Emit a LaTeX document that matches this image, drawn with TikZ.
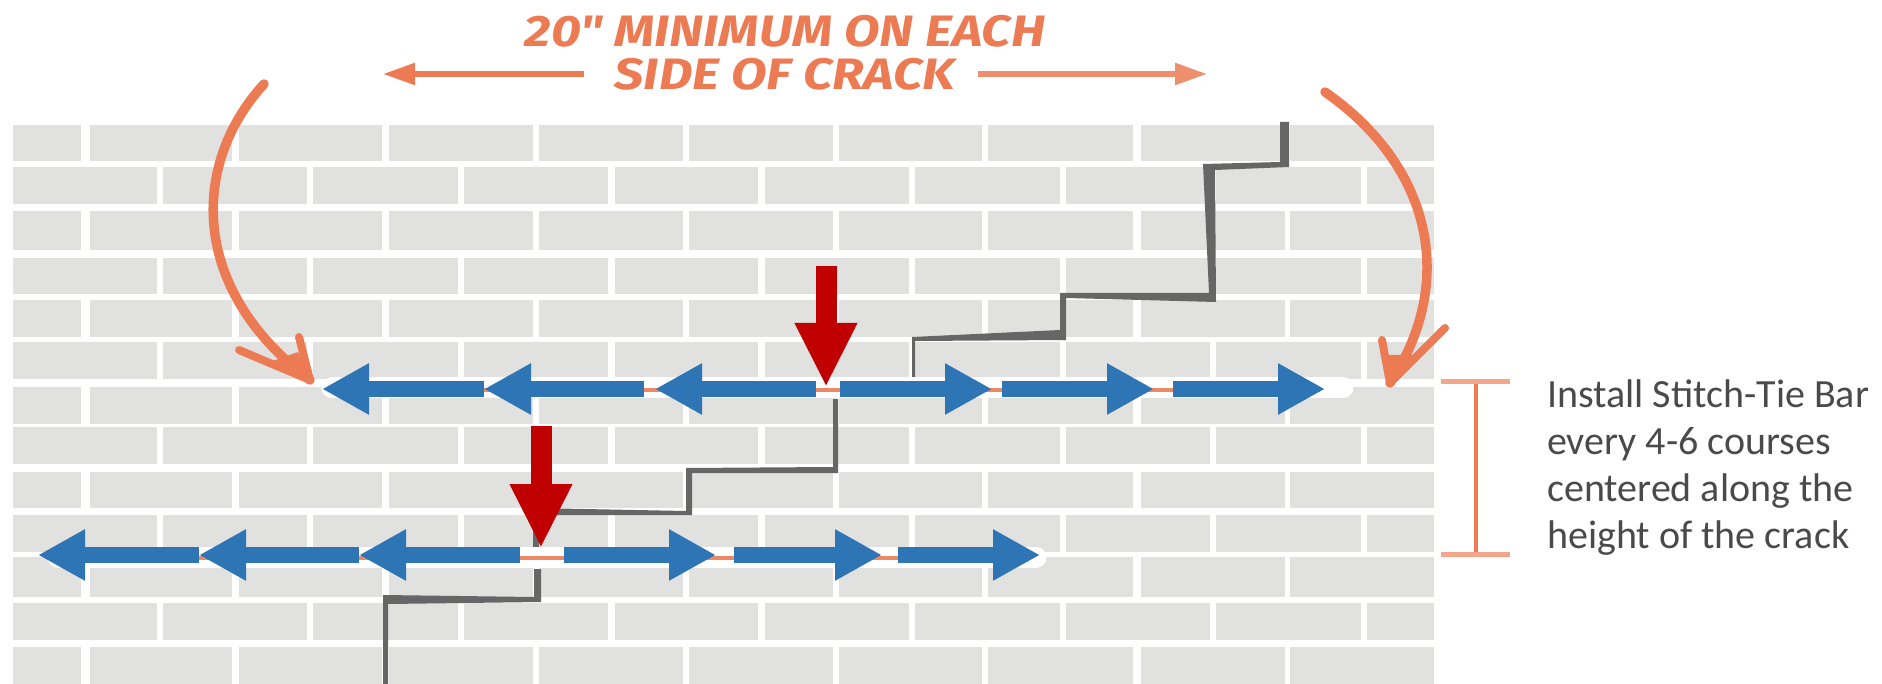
\documentclass[tikz,border=0pt]{standalone}
\usepackage{fontspec}
\setmainfont{Carlito}
\newfontfamily\handfont[FakeStretch=1.18]{Fira Sans}
\usetikzlibrary{arrows.meta}
\definecolor{mortar}{HTML}{E1E1DF}
\definecolor{hand}{HTML}{EC7A52}
\definecolor{handlight}{HTML}{F3A68B}
\definecolor{tieblue}{HTML}{2E75B5}
\definecolor{pinred}{HTML}{C00000}
\definecolor{crackgray}{HTML}{666666}
\definecolor{note}{HTML}{4A4A4A}
\tikzset{
  brick/.style={fill=mortar,draw=none},
  crack/.style={fill=crackgray,draw=none},
  slot/.style={white,line width=21pt,line cap=round},
  rod/.style={hand!90!white,line width=4pt},
  tie/.style={tieblue,line width=16pt,-{Triangle[length=47pt,width=48pt]}},
  pin/.style={pinred,line width=21pt,-{Triangle[length=64pt,width=58pt]}},
  sweep/.style={hand,line width=9.5pt,line cap=round},
  barb/.style={hand,line width=8pt,line cap=round,line join=round},
  reach/.style={hand,line width=5.5pt,-{Triangle[length=32pt,width=21pt]}},
  tick/.style={handlight,line width=5pt},
  lbl/.style={font=\fontsize{40}{47}\selectfont,text=note,align=left,inner sep=0pt},
  hdg/.style={font=\handfont\bfseries\itshape\fontsize{44}{43}\selectfont,text=hand,align=center,inner sep=0pt},
}
\begin{document}
\begin{tikzpicture}[x=1pt,y=-1pt]
    \useasboundingbox (0,0) rectangle (1882,684);
    % --- wall: odd and even courses ---
    \foreach \t/\b in {125/161,211/250,300/337,387/424,472/508,557/597,647/684}
      \foreach \l/\r in {13/81,90/232,239/382,389/533,539/683,689/833,839/982,988/1133,1141/1285,1290/1434}
        \fill[brick] (\l,\t) rectangle (\r,\b);
    \foreach \t/\b in {167/204,258/294,342/379,427/464,515/552,603/640}
      \foreach \l/\r in {13/157,163/307,313/458,464/608,615/758,765/909,915/1060,1066/1210,1216/1361,1367/1434}
        \fill[brick] (\l,\t) rectangle (\r,\b);
    % --- stepped crack ---
    \fill[crack] (1280,122) -- (1289,122) -- (1289,167) -- (1215,170) -- (1216,302) -- (1066,298)
      -- (1066,340) -- (915,341) -- (915,377) -- (912,377) -- (912,337) -- (1060,330) -- (1060,293)
      -- (1209,293) -- (1203,164) -- (1280,162) -- cycle;
    \fill[crack] (833,399) -- (838,399) -- (838,473) -- (692,473) -- (692,515) -- (539,515) -- (539,550)
      -- (533,550) -- (533,508) -- (686,511) -- (686,468) -- (833,467) -- cycle;
    \fill[crack] (534,569) -- (541,569) -- (541,602) -- (388,604) -- (388,684) -- (383,684)
      -- (383,595) -- (534,597) -- cycle;
    % --- upper bar ---
    \draw[slot] (332,388) -- (1343,388);
    \draw[rod] (340,390) -- (1320,390);
    \foreach \a/\b in {484/322,644/484,816/655,840/992,1002/1154,1173/1325}
      \draw[tie] (\a,389) -- (\b,389);
    \draw[pin] (826,266) -- (826,387);
    % --- lower bar ---
    \draw[slot] (58,557) -- (1036,557);
    \draw[rod] (60,558) -- (1030,558);
    \foreach \a/\b in {199/38,359/199,520/359,564/716,734/882,898/1040}
      \draw[tie] (\a,555) -- (\b,555);
    \draw[pin] (541,426) -- (541,548);
    % --- heading with its two arrows ---
    \node[hdg] (heading) at (785,53) {20" MINIMUM ON EACH\\ SIDE OF CRACK};
    \coordinate (lstart) at (584,74);
    \coordinate (lend) at (383,74);
    \coordinate (rstart) at (978,74);
    \coordinate (rend) at (1207,74);
    \draw[reach] (lstart) -- (lend);
    \draw[reach,hand!85!white] (rstart) -- (rend);
    % --- curved arrows down to the bar ends ---
    \coordinate (ltip) at (310,380);
    \coordinate (rtip) at (1390,383);
    \draw[sweep] (264,84) .. controls (190,165) and (190,290) .. (ltip);
    \draw[barb] (239,350) -- (ltip) -- (299,337);
    \fill[hand] (ltip) -- (270,362) -- (298,352) -- cycle;
    \draw[sweep] (1325,92) .. controls (1430,165) and (1458,280) .. (rtip);
    \draw[barb] (1382,340) -- (rtip) -- (1445,328);
    \fill[hand] (rtip) -- (1385,355) -- (1415,355) -- cycle;
    % --- spacing bracket and note ---
    \coordinate (dtop) at (1476,382);
    \coordinate (dbot) at (1476,554);
    \draw[hand,line width=3.5pt] (dtop) -- (dbot);
    \draw[tick] (1441,382) -- (1510,382);
    \draw[tick] (1441,554) -- (1510,554);
    \node[lbl,anchor=north west] (noteline) at (1547,380) {Install Stitch-Tie Bar\\ every 4-6 courses\\ centered along the\\ height of the crack};
  \end{tikzpicture}
\end{document}
